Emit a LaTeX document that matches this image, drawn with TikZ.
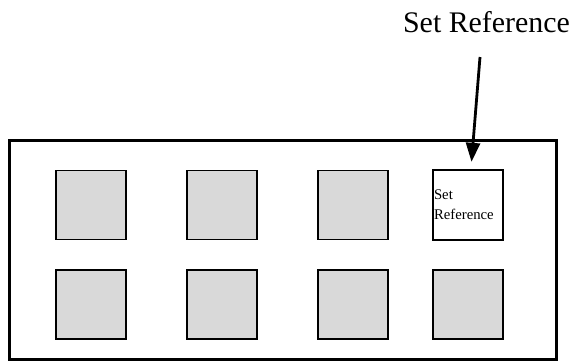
\documentclass[tikz,border=0pt]{standalone}
\usepackage{fontspec}
\setmainfont{Liberation Serif}
\usetikzlibrary{positioning, arrows.meta}

\begin{document}
\begin{tikzpicture}
    [
        x=1bp, y=-1bp,
        node distance=99.5bp and 131bp, on grid,
        grey_box/.style={rectangle, draw=black, fill=black!15, line width=1.2bp, minimum width=70bp, minimum height=69bp, inner sep=0pt},
        ref_box/.style={rectangle, draw=black, fill=white, line width=2.4bp, minimum width=70bp, minimum height=70bp, inner sep=1bp, text width=68bp, align=left, font=\fontsize{14.8}{20}\selectfont},
    ]
        \useasboundingbox (0,0) rectangle (576,362);
        \node[draw=black, line width=3bp, minimum width=546bp, minimum height=219bp, inner sep=0pt] (board) at (283,249.5) {};
        \node[grey_box] (b1) at (91,205) {};
        \node[grey_box] (b2) [right = of b1] {};
        \node[grey_box] (b3) [right = of b2] {};
        \node[ref_box] (ref) [right = 115bp of b3] {Set\\Reference};
        \node[grey_box] (b5) [below = of b1] {};
        \node[grey_box] (b6) [below = of b2] {};
        \node[grey_box] (b7) [below = of b3] {};
        \node[grey_box] (b8) [right = 115bp of b7] {};
        \node[font=\fontsize{30}{36}\selectfont, anchor=base] (title) at (486.5,32) {Set Reference};
        \coordinate (tail) at (480,57);
        \draw[-{Triangle[length=19bp, width=14bp]}, line width=2.8bp, shorten >=7bp] (tail) -- (ref);
    \end{tikzpicture}
\end{document}
